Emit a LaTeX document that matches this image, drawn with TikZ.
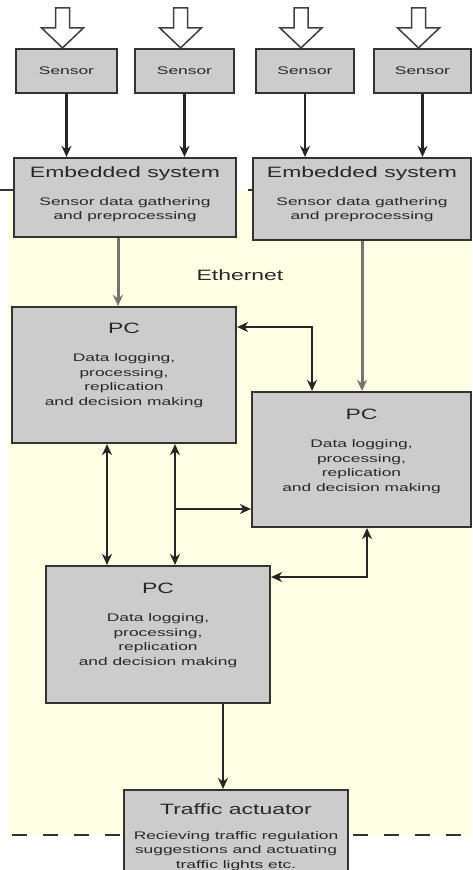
\documentclass[tikz,border=0pt]{standalone}
\usepackage{fontspec}
\usepackage{tikz}
\usetikzlibrary{arrows.meta,calc}
\newfontfamily\headfam[FakeStretch=1.53]{Liberation Sans}
\newfontfamily\bodyfam[FakeStretch=1.58]{Liberation Sans}
\newcommand\hd{\headfam\fontsize{15}{18}\selectfont}
\newcommand\bd{\bodyfam\fontsize{11}{14.7}\selectfont}
\definecolor{bgyellow}{RGB}{255,255,228}
\definecolor{boxgray}{RGB}{204,204,204}
\definecolor{ink}{RGB}{40,40,40}

\begin{document}
\begin{tikzpicture}[x=1pt,y=-1pt,>={Stealth[length=11pt,width=10pt,inset=3.5pt]}]
    \newcommand\inflow[1]{\draw[hollow] ($(#1.north)+(-4,0)$) -- ++(-21,-20) -- ++(14,0) -- ++(0,-20)
                          -- ++(14,0) -- ++(0,20) -- ++(14,0) -- cycle;}
    \newcommand\txt[4]{\parbox[c][#2pt][t]{#1pt}{\centering\bd\rule{0pt}{#3pt}#4}}
    \tikzstyle{box}=[draw=black!80,fill=boxgray,line width=2.2pt,inner sep=0pt,text=ink]
    \tikzstyle{sensor}=[box,minimum height=44pt,font=\bd]
    \tikzstyle{hollow}=[draw=black!75,fill=white,line width=1.5pt,line join=miter]
    \tikzstyle{conn}=[->,draw=black!85,line width=2.1pt]
    \tikzstyle{feed}=[->,draw=black!55,line width=3pt]
    \tikzstyle{link}=[<->,draw=black!85,line width=2.1pt]
    \tikzstyle{net}=[dash pattern=on 15pt off 16pt,line width=1.6pt,draw=black!80]
    \useasboundingbox (0,0) rectangle (472,870);
    % ethernet zone
    \fill[bgyellow] (8,190) rectangle (472,835);
    \draw[net] (0,190) -- (472,190);
    \draw[net] (12,835) -- (472,835);
    \node[text=ink,font=\hd] at (240,275) (eth) {Ethernet};
    % sensors
    \node[sensor,minimum width=101pt] at (66.5,71) (s1) {Sensor};
    \node[sensor,minimum width=99pt] at (184.5,71) (s2) {Sensor};
    \node[sensor,minimum width=98pt] at (305,71) (s3) {Sensor};
    \node[sensor,minimum width=97pt] at (422.5,71) (s4) {Sensor};
    \inflow{s1}\inflow{s2}\inflow{s3}\inflow{s4}
    % embedded systems
    \node[box] at (125,197.5) (e1) {\txt{222}{79}{19.5}{{\hd Embedded system}\\[12.8pt]
          Sensor data gathering\\ and preprocessing}};
    \node[box] at (362,199) (e2) {\txt{218}{82}{19.5}{{\hd Embedded system}\\[12.8pt]
          Sensor data gathering\\ and preprocessing}};
    % PCs
    \node[box] at (124,375) (pc1) {\txt{224}{136}{26}{{\hd PC}\\[13.7pt]
          Data logging,\\ processing,\\ replication\\ and decision making}};
    \node[box] at (361.5,459.5) (pc2) {\txt{219}{135}{27}{{\hd PC}\\[13.7pt]
          Data logging,\\ processing,\\ replication\\ and decision making}};
    \node[box] at (158,634.5) (pc3) {\txt{224}{137}{27}{{\hd PC}\\[13.7pt]
          Data logging,\\ processing,\\ replication\\ and decision making}};
    % actuator
    \node[box] at (236,831) (act) {\txt{224}{82}{24}{{\hd Traffic actuator}\\[10.3pt]
          Recieving traffic regulation\\ suggestions and actuating\\ traffic lights etc.}};
    % connectors
    \coordinate (f1) at (118,0);
    \coordinate (c12) at (312,327);
    \coordinate (v1) at (107,0);
    \coordinate (v2) at (175,0);
    \coordinate (b2) at (175,509);
    \coordinate (c32) at (367,577);
    \coordinate (out) at (223,0);
    \draw[conn] (s1) -- (s1 |- e1.north);
    \draw[conn] (s2) -- (s2 |- e1.north);
    \draw[conn] (s3) -- (s3 |- e2.north);
    \draw[conn] (s4) -- (s4 |- e2.north);
    \draw[feed] (f1 |- e1.south) -- (f1 |- pc1.north);
    \draw[feed] (e2) -- (e2 |- pc2.north);
    \draw[link] (pc1.east |- c12) -| (c12 |- pc2.north);
    \draw[link] (v1 |- pc1.south) -- (v1 |- pc3.north);
    \draw[link] (v2 |- pc1.south) -- (v2 |- pc3.north);
    \draw[conn] (b2) -- (b2 -| pc2.west);
    \draw[link] (pc3.east |- c32) -| (c32 |- pc2.south);
    \draw[conn] (out |- pc3.south) -- (out |- act.north);
\end{tikzpicture}
\end{document}
